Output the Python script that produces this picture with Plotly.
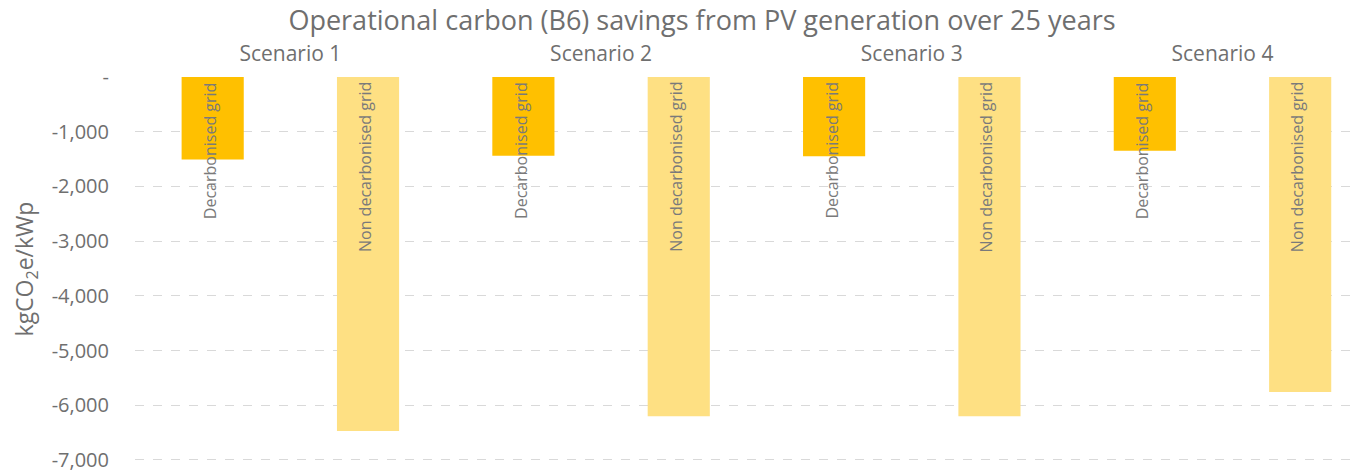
import plotly.graph_objects as go

scenarios = ["Scenario 1", "Scenario 2", "Scenario 3", "Scenario 4"]
decarbonised = [-1510, -1440, -1450, -1350]
non_decarbonised = [-6470, -6200, -6200, -5760]
series_names = ["Decarbonised grid", "Non decarbonised grid"]
tick_vals = [0, -1000, -2000, -3000, -4000, -5000, -6000, -7000]
tick_text = ["-", "-1,000", "-2,000", "-3,000", "-4,000", "-5,000", "-6,000", "-7,000"]

FONT = "Open Sans"
GREY = "#6f6f6f"
colors = ["#FFC000", "#FEE083"]

# page body has a default 8px margin, so the figure is sized to fit the window
W, H = 1354, 464

fig = go.Figure()
for name, vals, col in zip(series_names, [decarbonised, non_decarbonised], colors):
    fig.add_trace(go.Bar(x=scenarios, y=vals, name=name, marker=dict(color=col, line=dict(width=0)),
                         showlegend=False))

# rotated labels at top of each bar
offsets = [-0.25, 0.25]
for k, name in enumerate(series_names):
    for i, s in enumerate(scenarios):
        fig.add_annotation(x=i + offsets[k], y=0, xref="x", yref="y", text=name,
                           textangle=-90, showarrow=False, xanchor="center", yanchor="top",
                           yshift=-3, xshift=-3,
                           font=dict(family=FONT, size=16, color="#7a7a7a"))

fig.update_layout(
    width=W, height=H,
    margin=dict(l=127, r=0, t=69, b=11),
    paper_bgcolor="white", plot_bgcolor="white",
    barmode="group", bargap=0.0, bargroupgap=0.6,
    font=dict(family=FONT, color=GREY),
    title=dict(text="Operational carbon (B6) savings from PV generation over 25 years",
               x=694 / W, xref="container", xanchor="center",
               y=1 - 13 / H, yref="container", yanchor="middle",
               font=dict(family=FONT, size=27, color=GREY)),
)
fig.update_xaxes(side="top", range=[-0.5, 3.449], showgrid=False, showline=False, zeroline=False,
                 automargin=False,
                 ticks="outside", ticklen=7, tickcolor="rgba(0,0,0,0)",
                 tickfont=dict(family=FONT, size=21, color=GREY))
fig.update_yaxes(range=[-7020, 0], tickvals=tick_vals, ticktext=tick_text,
                 showgrid=True, gridcolor="#d9d9d9", griddash="dash", gridwidth=1,
                 zeroline=False, showline=False, automargin=False,
                 ticklabeloverflow="allow",
                 ticks="outside", ticklen=21, tickcolor="rgba(0,0,0,0)",
                 tickfont=dict(family=FONT, size=20, color=GREY),
                 title=dict(text="kgCO<sub>2</sub>e/kWp", standoff=18,
                            font=dict(family=FONT, size=23, color=GREY)))

fig.write_html("out.html")
